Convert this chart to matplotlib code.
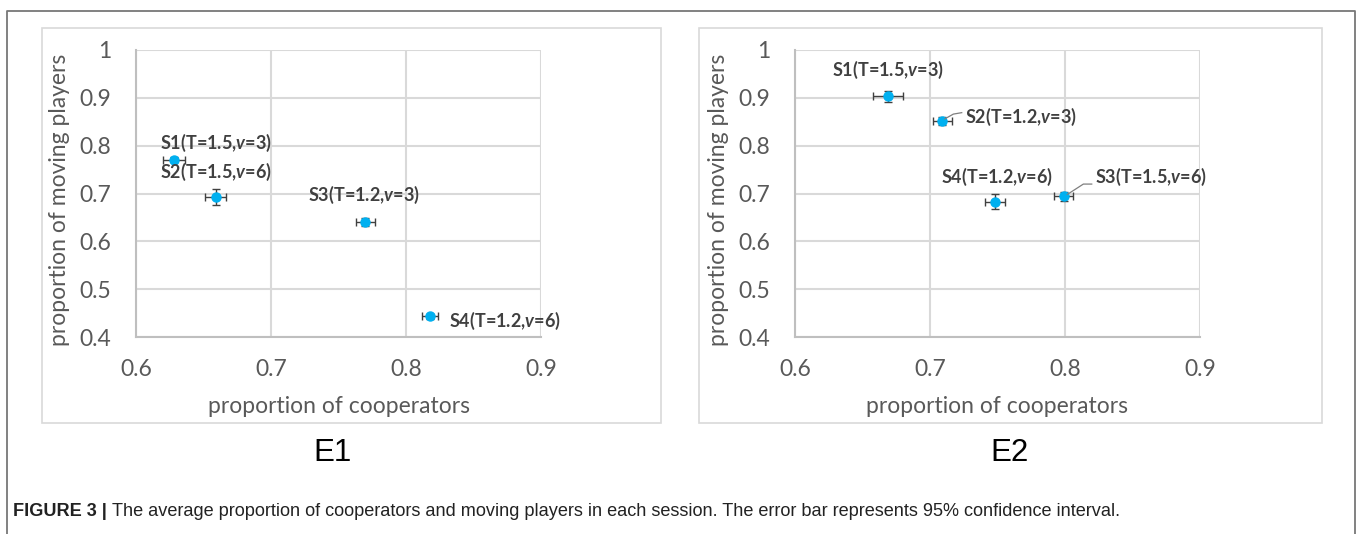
import matplotlib
matplotlib.use("Agg")
import matplotlib.pyplot as plt
from matplotlib.lines import Line2D
from matplotlib.patches import Rectangle

plt.rcParams['mathtext.fontset'] = 'custom'
plt.rcParams['mathtext.it'] = 'Lato:italic:bold'
plt.rcParams['mathtext.rm'] = 'Lato:bold'

# ---- data ----
e1_labels = [r"S1(T=1.5,$v$=3)", r"S2(T=1.5,$v$=6)", r"S3(T=1.2,$v$=3)", r"S4(T=1.2,$v$=6)"]
e1_x = [0.628, 0.659, 0.770, 0.818]
e1_y = [0.771, 0.693, 0.640, 0.443]
e1_xerr = [0.008, 0.008, 0.007, 0.006]
e1_yerr = [0.006, 0.016, 0.008, 0.006]
e1_label_x = [0.659, 0.659, 0.769, 0.873]
e1_label_y = [0.805, 0.745, 0.697, 0.434]

e2_labels = [r"S1(T=1.5,$v$=3)", r"S2(T=1.2,$v$=3)", r"S3(T=1.5,$v$=6)", r"S4(T=1.2,$v$=6)"]
e2_x = [0.669, 0.709, 0.799, 0.748]
e2_y = [0.903, 0.851, 0.694, 0.683]
e2_xerr = [0.011, 0.007, 0.007, 0.0075]
e2_yerr = [0.012, 0.008, 0.009, 0.015]
e2_label_x = [0.669, 0.7675, 0.8637, 0.7495]
e2_label_y = [0.958, 0.8605, 0.734, 0.735]

x_ticks = [0.6, 0.7, 0.8, 0.9]
y_ticks = [0.4, 0.5, 0.6, 0.7, 0.8, 0.9, 1.0]
y_ticklabels = ["0.4", "0.5", "0.6", "0.7", "0.8", "0.9", "1"]
panel_titles = ["E1", "E2"]
xlabel = "proportion of cooperators"
ylabel = "proportion of moving players"

W, H = 1360, 534
fig = plt.figure(figsize=(W / 100, H / 100), dpi=100)
fig.patch.set_facecolor("white")

def fx(px):
    return px / W

def fy(py):
    return 1 - py / H

# outer border
fig.add_artist(Line2D([fx(7), fx(7), fx(1355), fx(1355)], [0, fy(11), fy(11), 0],
                      transform=fig.transFigure, color="#777777", lw=1.3))

tick_color = "#595959"
grid_color = "#d9d9d9"
tick_font = "Lato"


def make_panel(ax_left, box_left, box_right, xs, ys, xerr, yerr, labels, lx, ly, title, title_x):
    # panel box
    fig.add_artist(Rectangle((fx(box_left), fy(423)), fx(box_right - box_left), (423 - 28) / H,
                             transform=fig.transFigure, fill=False, edgecolor=grid_color, lw=1.2))
    ax = fig.add_axes([fx(ax_left), fy(337), fx(405), 287 / H])
    ax.set_xlim(0.6, 0.9)
    ax.set_ylim(0.4, 1.0)
    ax.set_xticks(x_ticks)
    ax.set_xticklabels([f"{t:.1f}" for t in x_ticks])
    ax.set_yticks(y_ticks)
    ax.set_yticklabels(y_ticklabels)
    ax.tick_params(length=0, labelsize=16.5, colors=tick_color)
    ax.tick_params(axis="y", pad=18)
    ax.tick_params(axis="x", pad=16)
    for lab in ax.get_xticklabels() + ax.get_yticklabels():
        lab.set_fontfamily(tick_font)
    ax.grid(True, color=grid_color, lw=1.5)
    ax.set_axisbelow(True)
    for s in ["top", "right"]:
        ax.spines[s].set_visible(False)
    for s in ["left", "bottom"]:
        ax.spines[s].set_color("#bfbfbf")
        ax.spines[s].set_linewidth(1.5)
    ax.set_xlabel(xlabel, fontsize=16.5, color=tick_color, fontfamily=tick_font)
    ax.set_ylabel(ylabel, fontsize=16.5, color=tick_color, fontfamily=tick_font)
    ax.xaxis.set_label_coords(0.5, -0.205)
    ax.yaxis.set_label_coords(-0.163, 0.477)
    ax.errorbar(xs, ys, xerr=xerr, yerr=yerr, fmt="none", ecolor="#404040",
                elinewidth=1.0, capsize=3, capthick=1.0, zorder=3)
    ax.plot(xs, ys, "o", color="#00b0f0", markersize=6.5, zorder=4, clip_on=False)
    for t, x, y in zip(labels, lx, ly):
        ax.text(x, y, t, ha="center", va="center", fontsize=13, fontweight="bold",
                fontfamily="Lato", color="#404040", clip_on=False, zorder=5)
    fig.text(fx(title_x), fy(453), title, ha="center", va="center", fontsize=22.5,
             fontfamily="Liberation Sans", color="black")
    return ax

ax1 = make_panel(136, 42, 661, e1_x, e1_y, e1_xerr, e1_yerr, e1_labels,
                 e1_label_x, e1_label_y, panel_titles[0], 332)
ax2 = make_panel(795, 699, 1322, e2_x, e2_y, e2_xerr, e2_yerr, e2_labels,
                 e2_label_x, e2_label_y, panel_titles[1], 1010)

# leader lines in E2
ax2.plot([0.711, 0.7173, 0.7235], [0.856, 0.866, 0.869], color="#7f7f7f", lw=0.9, zorder=5)
ax2.plot([0.8017, 0.8136, 0.8198], [0.698, 0.7197, 0.7197], color="#7f7f7f", lw=0.9, zorder=5)

# caption
cap1 = fig.text(fx(13), fy(511), "FIGURE 3 |", ha="left", va="center", fontsize=13.1,
                fontweight="bold", fontfamily="Liberation Sans", color="#222222")
fig.canvas.draw()
bb = cap1.get_window_extent()
fig.text(bb.x1 / W + fx(5), fy(511),
         "The average proportion of cooperators and moving players in each session. "
         "The error bar represents 95% confidence interval.",
         ha="left", va="center", fontsize=13.1, fontfamily="Liberation Sans", color="#222222")

fig.savefig("out.png", dpi=100, facecolor="white")
